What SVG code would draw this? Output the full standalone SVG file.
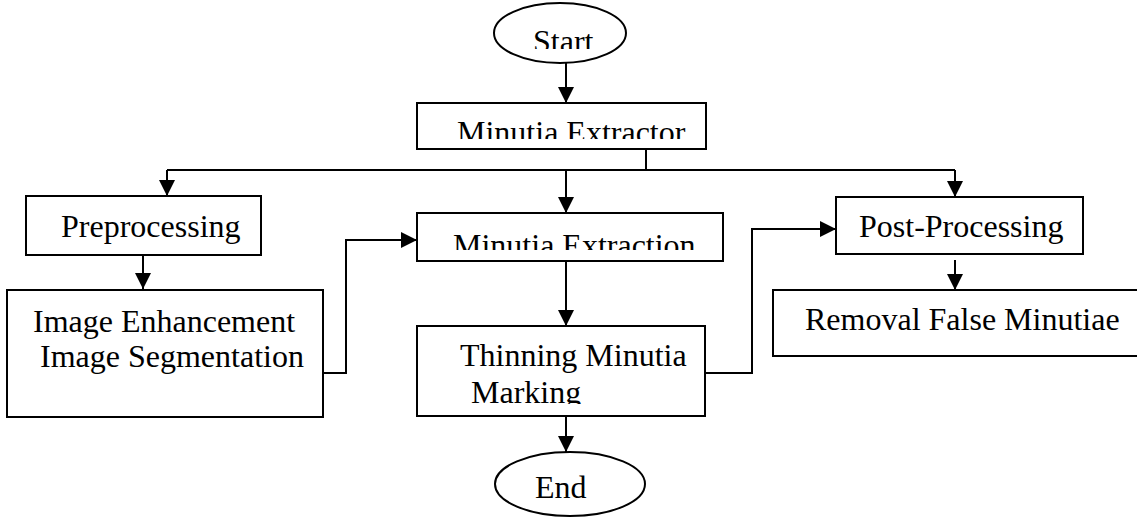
<svg xmlns="http://www.w3.org/2000/svg" width="1137" height="518" viewBox="0 0 1137 518">
  <style>
    .box { fill: #fff; stroke: #000; stroke-width: 2; }
    .lbl { font-family: "Liberation Serif", "Times New Roman", serif; font-size: 32px; fill: #000; }
    .wire { fill: none; stroke: #000; stroke-width: 2; }
    .arrow { fill: none; stroke: #000; stroke-width: 2; marker-end: url(#head); }
  </style>
  <defs>
    <marker id="head" markerUnits="userSpaceOnUse" markerWidth="16" markerHeight="16" refX="16" refY="8" orient="auto">
      <path d="M0,0 L16,8 L0,16 z" fill="#000"/>
    </marker>
    <!-- text frames that cut off the lower part of some labels -->
    <clipPath id="clipStart"><rect x="480" y="0" width="160" height="49"/></clipPath>
    <clipPath id="clipExtractor"><rect x="417" y="103" width="289" height="36"/></clipPath>
    <clipPath id="clipExtraction"><rect x="417" y="213" width="306" height="37"/></clipPath>
    <clipPath id="clipThinning"><rect x="417" y="326" width="288" height="78"/></clipPath>
  </defs>

  <g id="connectors">
    <path class="arrow" d="M566,63 V103"/>
    <path class="wire" d="M646,149 V170"/>
    <path class="wire" d="M167,170 H955"/>
    <path class="arrow" d="M167,170 V196"/>
    <path class="arrow" d="M566,170 V213"/>
    <path class="arrow" d="M955,170 V197"/>
    <path class="arrow" d="M143,255 V289"/>
    <path class="arrow" d="M323,373 H346 V240 H417"/>
    <path class="arrow" d="M566,261 V326"/>
    <path class="arrow" d="M566,416 V452"/>
    <path class="arrow" d="M705,373 H752 V229 H836"/>
    <path class="arrow" d="M955,260 V290"/>
  </g>

  <g id="start">
    <ellipse class="box" cx="560" cy="33" rx="66" ry="30"/>
    <text class="lbl" x="533" y="52" clip-path="url(#clipStart)">Start</text>
  </g>

  <g id="minutia-extractor">
    <rect class="box" x="417" y="103" width="289" height="46"/>
    <text class="lbl" x="457" y="143" clip-path="url(#clipExtractor)">Minutia Extractor</text>
  </g>

  <g id="preprocessing">
    <rect class="box" x="26" y="196" width="235" height="59"/>
    <text class="lbl" x="61" y="237">Preprocessing</text>
  </g>

  <g id="image-steps">
    <rect class="box" x="7" y="290" width="316" height="127"/>
    <text class="lbl" x="33" y="332">Image Enhancement</text>
    <text class="lbl" x="40" y="367">Image Segmentation</text>
  </g>

  <g id="minutia-extraction">
    <rect class="box" x="417" y="213" width="306" height="48"/>
    <text class="lbl" x="453" y="256" clip-path="url(#clipExtraction)">Minutia Extraction</text>
  </g>

  <g id="thinning-marking">
    <rect class="box" x="417" y="326" width="288" height="90"/>
    <g clip-path="url(#clipThinning)">
      <text class="lbl" x="460" y="366">Thinning Minutia</text>
      <text class="lbl" x="471" y="403">Marking</text>
    </g>
  </g>

  <g id="post-processing">
    <rect class="box" x="836" y="197" width="247" height="57"/>
    <text class="lbl" x="859" y="237">Post-Processing</text>
  </g>

  <g id="removal">
    <rect class="box" x="773" y="290" width="400" height="66"/>
    <text class="lbl" x="805" y="330">Removal False Minutiae</text>
  </g>

  <g id="end">
    <ellipse class="box" cx="570" cy="484" rx="75" ry="32"/>
    <text class="lbl" x="535" y="498">End</text>
  </g>
</svg>
